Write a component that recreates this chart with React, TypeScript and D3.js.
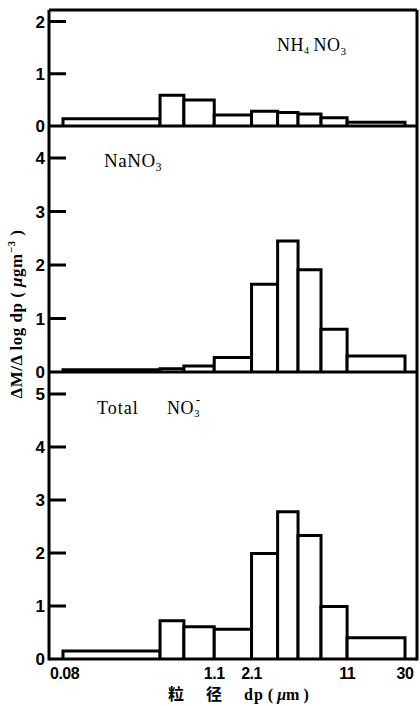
import React from "react";
import * as d3 from "d3";

const edges = [0.08, 0.43, 0.65, 1.1, 2.1, 3.3, 4.7, 7.0, 11, 30];
const nh4no3 = [0.14, 0.59, 0.5, 0.21, 0.28, 0.26, 0.23, 0.16, 0.07];
const nano3 = [0.04, 0.06, 0.11, 0.27, 1.64, 2.45, 1.91, 0.8, 0.3];
const totalNo3 = [0.15, 0.72, 0.61, 0.56, 1.99, 2.78, 2.33, 0.99, 0.4];
const xTickLabels = ["0.08", "1.1", "2.1", "11", "30"];
const xTickValues = [0.08, 1.1, 2.1, 11, 30];
const p1Ticks = [0, 1, 2];
const p2Ticks = [0, 1, 2, 3, 4];
const p3Ticks = [0, 1, 2, 3, 4, 5];

const serif = "'Liberation Serif', 'DejaVu Serif', serif";
const sans = "'Liberation Sans', 'DejaVu Sans', sans-serif";
const cjk = "'Noto Sans CJK SC', sans-serif";

export default function App() {
  const x = d3.scaleLog().domain([0.08, 30]).range([63, 405]);
  const L = 49;
  const R = 417;
  const top = 10;
  const panels = [
    { data: nh4no3, ticks: p1Ticks, y: d3.scaleLinear().domain([0, 2]).range([126, 21.5]) },
    { data: nano3, ticks: p2Ticks, y: d3.scaleLinear().domain([0, 4]).range([372, 158]) },
    { data: totalNo3, ticks: p3Ticks, y: d3.scaleLinear().domain([0, 5]).range([659, 394]) },
  ];
  const bottom = panels[2].y(0);

  return (
    <svg width={420} height={706} style={{ position: "absolute", left: 0, top: 0, background: "#fff" }}>
      <rect x={0} y={0} width={420} height={706} fill="#fff" />
      {panels.map((p, pi) => (
        <g key={pi}>
          {p.data.map((v, i) => {
            const x0 = x(edges[i]);
            const x1 = x(edges[i + 1]);
            const y0 = p.y(0);
            const y1 = p.y(v);
            return (
              <path
                key={i}
                d={`M${x0},${y0}V${y1}H${x1}V${y0}`}
                fill="#fff"
                stroke="#000"
                strokeWidth={3}
              />
            );
          })}
          <line x1={L} x2={R} y1={p.y(0)} y2={p.y(0)} stroke="#000" strokeWidth={3} />
          {p.ticks.map((t) => (
            <g key={t}>
              {t > 0 && (
                <line x1={L} x2={L + 17} y1={p.y(t)} y2={p.y(t)} stroke="#000" strokeWidth={3} />
              )}
              <text
                x={45}
                y={p.y(t)}
                dy="0.36em"
                textAnchor="end"
                fontFamily={sans}
                fontWeight="bold"
                fontSize={17}
              >
                {t}
              </text>
            </g>
          ))}
        </g>
      ))}
      {/* frame */}
      <line x1={L} x2={L} y1={top} y2={bottom + 1.5} stroke="#000" strokeWidth={3} />
      <line x1={L} x2={R} y1={top} y2={top} stroke="#000" strokeWidth={3} />
      <line x1={R} x2={R} y1={top} y2={bottom + 1.5} stroke="#000" strokeWidth={3} />

      {/* x tick labels */}
      {xTickValues.map((v, i) => (
        <text
          key={i}
          x={i === 0 ? 50 : x(v)}
          y={679}
          textAnchor={i === 0 ? "start" : "middle"}
          fontFamily={sans}
          fontWeight="bold"
          fontSize={16}
          letterSpacing={-0.5}
        >
          {xTickLabels[i]}
        </text>
      ))}
      <text x={168} y={700} fontFamily={serif} fontWeight="bold" fontSize={16}>
        <tspan fontFamily={cjk}>粒</tspan>
        <tspan dx={22} fontFamily={cjk}>径</tspan>
        <tspan dx={22} letterSpacing={1}>dp</tspan>
        <tspan dx={4}>(</tspan>
        <tspan dx={4} fontStyle="italic">μ</tspan>
        <tspan>m</tspan>
        <tspan dx={4}>)</tspan>
      </text>

      {/* panel labels */}
      <text x={277} y={51} fontFamily={serif} fontSize={18} letterSpacing={0.5}>
        NH<tspan fontSize={10} dy={3}>4</tspan>
        <tspan dy={-3} dx={4}>NO</tspan>
        <tspan fontSize={11} dy={4}>3</tspan>
      </text>
      <text x={104} y={167} fontFamily={serif} fontSize={19} letterSpacing={0.5}>
        NaNO<tspan fontSize={12} dy={4}>3</tspan>
      </text>
      <text x={97} y={414} fontFamily={serif} fontSize={18} letterSpacing={1}>
        Total
      </text>
      <text x={167} y={414} fontFamily={serif} fontSize={18} letterSpacing={0.5}>
        NO<tspan fontSize={11} dy={3}>3</tspan>
      </text>
      <text x={196} y={404} fontFamily={serif} fontSize={12} fontWeight="bold">
        -
      </text>

      {/* y axis label */}
      <text
        transform="translate(22,314) rotate(-90)"
        textAnchor="middle"
        fontFamily={serif}
        fontWeight="bold"
        fontSize={17}
        letterSpacing={0.5}
      >
        ΔM/Δ log dp ( <tspan fontStyle="italic">μ</tspan>gm
        <tspan fontSize={11} dy={-7}>−3</tspan>
        <tspan dy={7}> )</tspan>
      </text>
    </svg>
  );
}
